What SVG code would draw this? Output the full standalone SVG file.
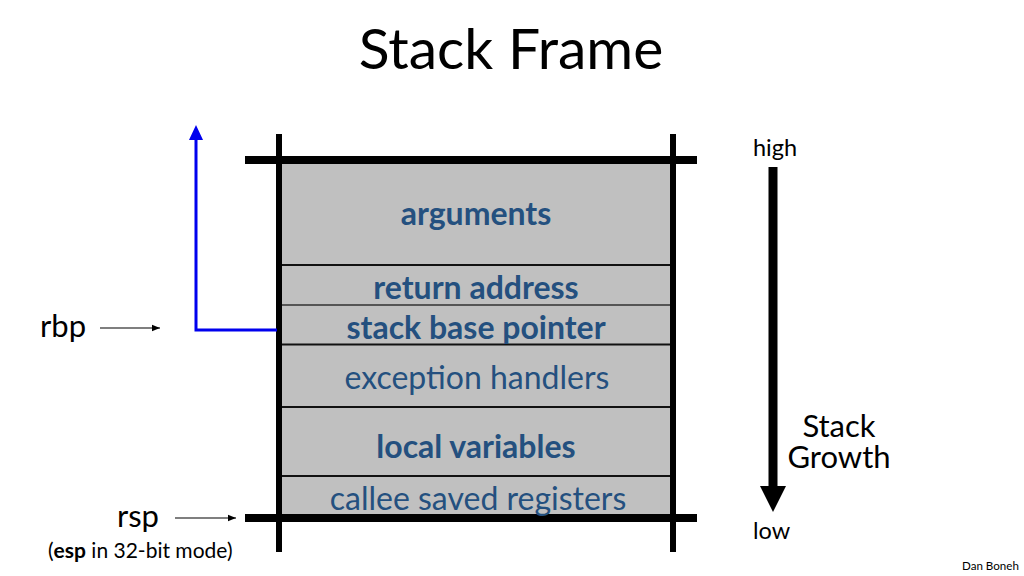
<svg xmlns="http://www.w3.org/2000/svg" width="1024" height="576" viewBox="0 0 1024 576">
<defs>
<style>
text{font-family:Lato,"Liberation Sans",sans-serif;}
.cell{font-size:32px;fill:#24507f;text-anchor:middle;}
.b{font-weight:bold;}
.lbl{fill:#000;}
.thick{stroke:#000;stroke-width:8;}
.post{stroke:#000;stroke-width:6;}
.div{stroke:#111;stroke-width:2;}
.thin{stroke:#000;stroke-width:1.2;fill:none;}
</style>
<marker id="sm" viewBox="0 0 10 10" refX="10" refY="5" markerWidth="8" markerHeight="8" markerUnits="userSpaceOnUse" orient="auto">
<path d="M0,1 L10,5 L0,9 Z" fill="#000"/>
</marker>
</defs>
<rect width="1024" height="576" fill="#fff"/>
<text x="511" y="69" font-size="57" text-anchor="middle" class="lbl">Stack Frame</text>

<g id="stack">
<rect x="281" y="163" width="391" height="352" fill="#c0c0c0"/>
</g>
<g id="dividers">
<line class="div" x1="282" y1="265" x2="670" y2="265"/>
<line stroke="#555" stroke-width="2" x1="282" y1="305" x2="670" y2="305"/>
<line class="div" x1="282" y1="344.5" x2="670" y2="344.5"/>
<line class="div" x1="282" y1="407" x2="670" y2="407"/>
<line class="div" x1="282" y1="476" x2="670" y2="476"/>
</g>
<g id="frame">
<line class="thick" x1="245" y1="160" x2="697" y2="160"/>
<line class="thick" x1="245" y1="518" x2="697" y2="518"/>
<line class="post" x1="279" y1="134" x2="279" y2="552"/>
<line class="post" x1="673" y1="134" x2="673" y2="552"/>
</g>
<g id="n-arguments"><text class="cell b" x="476" y="225">arguments</text></g>
<g id="n-return"><text class="cell b" x="476" y="299">return address</text></g>
<g id="n-sbp"><text class="cell b" x="476" y="339">stack base pointer</text></g>
<g id="n-exc"><text class="cell" x="477" y="389">exception handlers</text></g>
<g id="n-local"><text class="cell b" x="476" y="458">local variables</text></g>
<g id="n-callee"><text class="cell" x="478" y="510">callee saved registers</text></g>

<g id="n-rbp"><text class="lbl" x="40" y="337" font-size="31">rbp</text></g>
<g id="n-rsp"><text class="lbl" x="117" y="527" font-size="31">rsp</text>
<text class="lbl" x="48" y="558" font-size="21">(<tspan font-weight="bold">esp</tspan> in 32-bit mode)</text></g>
<g id="n-high"><text class="lbl" x="753" y="156" font-size="23.5">high</text></g>
<g id="n-low"><text class="lbl" x="753" y="539" font-size="23.5">low</text></g>
<g id="n-growth"><text class="lbl" font-size="31" text-anchor="middle"><tspan x="839" y="437">Stack</tspan><tspan x="839" y="468">Growth</tspan></text></g>
<text class="lbl" x="962" y="570" font-size="11.6">Dan Boneh</text>

<g id="connectors">
<line class="thin" x1="100" y1="328" x2="160" y2="328" marker-end="url(#sm)"/>
<line class="thin" x1="175" y1="518" x2="236" y2="518" marker-end="url(#sm)"/>
<polyline points="277,330 196,330 196,138" fill="none" stroke="#0000ee" stroke-width="3"/>
<path d="M189,140 L196,125 L203,140 Z" fill="#0000ee"/>
<line x1="773" y1="167" x2="773" y2="488" stroke="#000" stroke-width="9"/>
<path d="M760,486 L786,486 L773,512 Z" fill="#000"/>
</g>
</svg>
